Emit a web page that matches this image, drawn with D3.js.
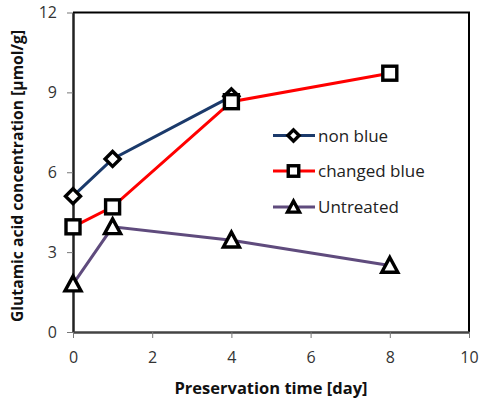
<!DOCTYPE html>
<html>
<head>
<meta charset="utf-8">
<script src="https://cdn.jsdelivr.net/npm/d3@7"></script>
<style>
  body { margin: 0; background: #fff; }
  svg { display: block; }
</style>
</head>
<body>
<div id="chart"><svg width="483" height="404"></svg></div>
<script>
// chart values
const DAYS_NON_BLUE = [0, 1, 4];
const NON_BLUE = [5.1, 6.5, 8.85];
const DAYS_CHANGED = [0, 1, 4, 8];
const CHANGED_BLUE = [3.95, 4.7, 8.65, 9.72];
const DAYS_UNTREATED = [0, 1, 4, 8];
const UNTREATED = [1.8, 3.95, 3.45, 2.5];
const X_TICKS = [0, 2, 4, 6, 8, 10];
const Y_TICKS = [0, 3, 6, 9, 12];
const SERIES_NAMES = ['non blue', 'changed blue', 'Untreated'];

const SVG = d3.select('#chart svg');
const LEFT = 73, RIGHT = 469, TOP = 12.5, BOTTOM = 332;
const FONT = '"Open Sans", "Noto Sans", sans-serif';

const X_SCALE = d3.scaleLinear().domain([0, 10]).range([LEFT, RIGHT]);
const Y_SCALE = d3.scaleLinear().domain([0, 12]).range([BOTTOM, TOP]);

// frame (top and right)
SVG.append('path')
  .attr('d', `M${LEFT},${TOP}H${RIGHT}V${BOTTOM}`)
  .style('fill', 'none')
  .style('stroke', '#000')
  .style('stroke-width', 2);

// axes
const Y_AXIS_G = SVG.append('g')
  .attr('transform', `translate(${LEFT},0)`)
  .call(d3.axisLeft(Y_SCALE).tickValues(Y_TICKS).tickSize(6).tickPadding(10).tickSizeOuter(0));
const X_AXIS_G = SVG.append('g')
  .attr('transform', `translate(0,${BOTTOM})`)
  .call(d3.axisBottom(X_SCALE).tickValues(X_TICKS).tickSize(6).tickPadding(14).tickSizeOuter(0));

[Y_AXIS_G, X_AXIS_G].forEach(g => {
  g.select('.domain').style('stroke', '#222').style('stroke-width', 2.5);
  g.selectAll('.tick line').style('stroke', '#777').style('stroke-width', 1);
  g.selectAll('.tick text')
    .style('font-family', FONT)
    .style('font-size', '16px')
    .style('fill', '#333');
});
X_AXIS_G.select('.domain').style('stroke', '#444');

// axis titles
SVG.append('text')
  .text('Preservation time [day]')
  .attr('x', 271)
  .attr('y', 394)
  .style('text-anchor', 'middle')
  .style('font-family', FONT)
  .style('font-weight', 'bold')
  .style('font-size', '16.5px')
  .style('fill', '#111');

SVG.append('text')
  .text('Glutamic acid concentration [μmol/g]')
  .attr('transform', 'translate(23,176) rotate(-90)')
  .style('text-anchor', 'middle')
  .style('font-family', FONT)
  .style('font-weight', 'bold')
  .style('font-size', '15.7px')
  .style('fill', '#111');

// series
const SERIES = [
  { name: SERIES_NAMES[0], days: DAYS_NON_BLUE, values: NON_BLUE, color: '#1b3a6b', marker: 'diamond' },
  { name: SERIES_NAMES[1], days: DAYS_CHANGED, values: CHANGED_BLUE, color: '#ff0000', marker: 'square' },
  { name: SERIES_NAMES[2], days: DAYS_UNTREATED, values: UNTREATED, color: '#5f4b7d', marker: 'triangle' }
];

const LINE = d3.line().x(d => X_SCALE(d[0])).y(d => Y_SCALE(d[1]));

function drawMarker(g, type, cx, cy, small) {
  const s = small ? 0.75 : 1;
  let sel;
  if (type === 'diamond') {
    const r = 7.5 * s;
    sel = g.append('path').attr('d', `M${cx},${cy - r}L${cx + r},${cy}L${cx},${cy + r}L${cx - r},${cy}Z`);
  } else if (type === 'square') {
    const h = 7 * s;
    sel = g.append('rect').attr('x', cx - h).attr('y', cy - h).attr('width', 2 * h).attr('height', 2 * h);
  } else {
    const h = 8 * s;
    sel = g.append('path').attr('d', `M${cx},${cy - h}L${cx + h},${cy + h * 0.85}L${cx - h},${cy + h * 0.85}Z`);
  }
  sel.style('fill', '#fff').style('stroke', '#000').style('stroke-width', 3.4).style('stroke-linejoin', 'miter');
}

SERIES.forEach(s => {
  const pts = s.days.map((d, i) => [d, s.values[i]]);
  const g = SVG.append('g');
  g.append('path')
    .datum(pts)
    .attr('d', LINE)
    .style('fill', 'none')
    .style('stroke', s.color)
    .style('stroke-width', 3);
  pts.forEach(p => drawMarker(g, s.marker, X_SCALE(p[0]), Y_SCALE(p[1]), false));
});

// legend
const LEGEND_Y = [135.5, 171, 207];
SERIES.forEach((s, i) => {
  const g = SVG.append('g');
  const y = LEGEND_Y[i];
  g.append('line')
    .attr('x1', 273).attr('x2', 315).attr('y1', y).attr('y2', y)
    .style('stroke', s.color).style('stroke-width', 3);
  drawMarker(g, s.marker, 293.5, y, true);
  g.append('text')
    .text(s.name)
    .attr('x', 318)
    .attr('y', y + 6)
    .style('font-family', FONT)
    .style('font-size', '17px')
    .style('fill', '#222');
});
</script>
</body>
</html>
